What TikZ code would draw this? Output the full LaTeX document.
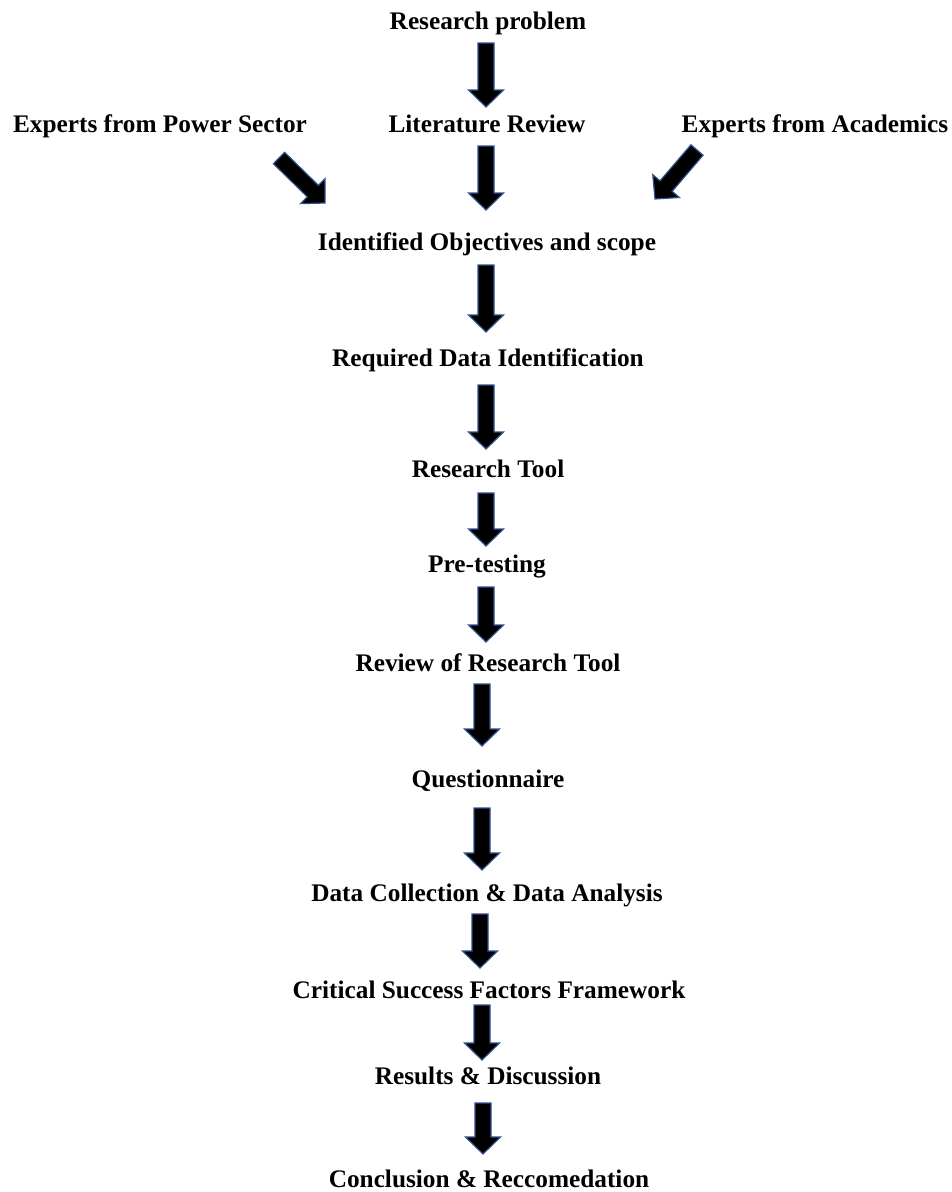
\documentclass[tikz,border=0pt]{standalone}
\usepackage{fontspec}
\setmainfont{Liberation Serif}
\usetikzlibrary{calc}
\definecolor{arrowedge}{RGB}{47,82,143}
\tikzset{
  label/.style={anchor=base, inner sep=0pt, font=\bfseries\fontsize{25.3}{30}\selectfont},
  % filled block arrow drawn from the start coordinate to the tip coordinate
  blockarrow/.style={draw=arrowedge, fill=black, line width=1.2pt, line join=miter,
    to path={
      ($(\tikztostart)!8pt!90:(\tikztotarget)$)
      -- ($(\tikztotarget)!17pt!(\tikztostart)!8pt!90:(\tikztotarget)$)
      -- ($(\tikztotarget)!17pt!(\tikztostart)!17.5pt!90:(\tikztotarget)$)
      -- (\tikztotarget)
      -- ($(\tikztotarget)!17pt!(\tikztostart)!17.5pt!-90:(\tikztotarget)$)
      -- ($(\tikztotarget)!17pt!(\tikztostart)!8pt!-90:(\tikztotarget)$)
      -- ($(\tikztostart)!8pt!-90:(\tikztotarget)$)
      -- cycle}}
}
\begin{document}
\begin{tikzpicture}[x=1pt,y=-1pt]
\useasboundingbox (0,0) rectangle (952,1192);

% steps
\node[label] (rp)  at (488,29)   {Research problem};
\node[label] (lr)  at (487,132)  {Literature Review};
\node[label] (eps) at (160,132)  {Experts from Power Sector};
\node[label] (ea)  at (815,132)  {Experts from Academics};
\node[label] (ios) at (487,250)  {Identified Objectives and scope};
\node[label] (rdi) at (488,366)  {Required Data Identification};
\node[label] (rt)  at (488,477)  {Research Tool};
\node[label] (pt)  at (487,572)  {Pre-testing};
\node[label] (rrt) at (488,671)  {Review of Research Tool};
\node[label] (q)   at (488,787)  {Questionnaire};
\node[label] (dc)  at (487,901)  {Data Collection \& Data Analysis};
\node[label] (csf) at (489,998)  {Critical Success Factors Framework};
\node[label] (rd)  at (488,1084) {Results \& Discussion};
\node[label] (cr)  at (489,1187) {Conclusion \& Reccomedation};

% arrow ends
\coordinate (a1s) at (486,43);   \coordinate (a1e) at (486,107);
\coordinate (a2s) at (486,146);  \coordinate (a2e) at (486,210);
\coordinate (als) at (279,158);  \coordinate (ale) at (325,203);
\coordinate (ars) at (697,150);  \coordinate (are) at (655,199);
\coordinate (a3s) at (486,265);  \coordinate (a3e) at (486,332);
\coordinate (a4s) at (486,385);  \coordinate (a4e) at (486,449);
\coordinate (a5s) at (486,493);  \coordinate (a5e) at (486,546);
\coordinate (a6s) at (486,587);  \coordinate (a6e) at (486,642);
\coordinate (a7s) at (482,684);  \coordinate (a7e) at (482,746);
\coordinate (a8s) at (482,808);  \coordinate (a8e) at (482,870);
\coordinate (a9s) at (480,914);  \coordinate (a9e) at (480,968);
\coordinate (a10s) at (482,1005); \coordinate (a10e) at (482,1060);
\coordinate (a11s) at (483,1103); \coordinate (a11e) at (483,1154);

\foreach \s/\e in {a1s/a1e,a2s/a2e,als/ale,ars/are,a3s/a3e,a4s/a4e,a5s/a5e,
                   a6s/a6e,a7s/a7e,a8s/a8e,a9s/a9e,a10s/a10e,a11s/a11e}
  \path[blockarrow] (\s) to (\e);
\end{tikzpicture}
\end{document}
